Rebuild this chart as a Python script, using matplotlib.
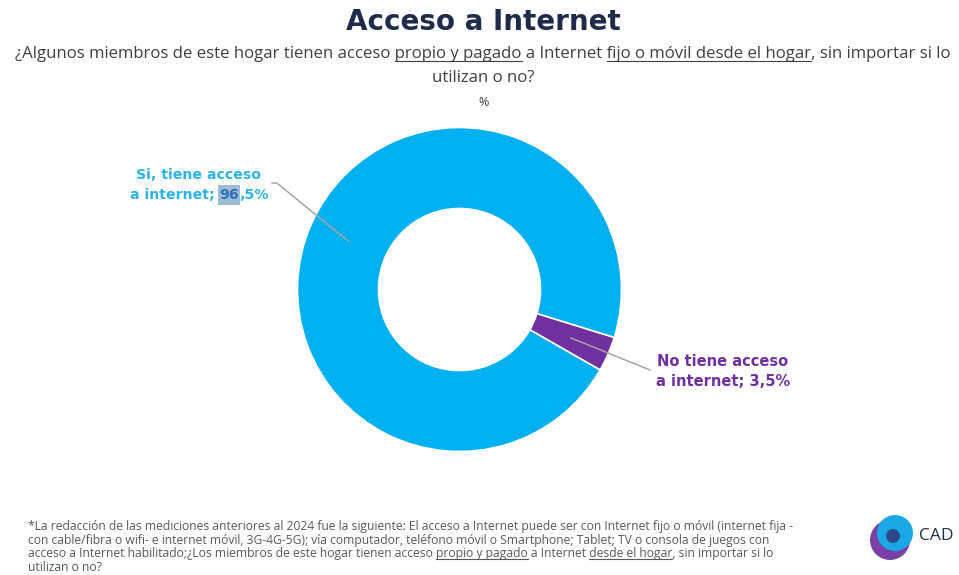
import matplotlib
matplotlib.use("Agg")
import matplotlib.pyplot as plt
from matplotlib.patches import Rectangle, Ellipse
import numpy as np

# ---- data ----
categories = ["No tiene acceso\na internet", "Si, tiene acceso\na internet"]
values = [3.5, 96.5]
colors = ["#7030A0", "#00B0F0"]

W, H = 959, 575
fig = plt.figure(figsize=(W / 100, H / 100), dpi=100)
fig.patch.set_facecolor("white")

FONT = "Open Sans"
BOLD = "DejaVu Sans"
NAVY = "#1F2B4A"
TXT = "#404040"


def fx(x):
    return x / W


def fy(y):
    return 1 - y / H


renderer = fig.canvas.get_renderer()


def text_width(s, **kw):
    t = fig.text(0, 0, s, **kw)
    w = t.get_window_extent(renderer).width
    t.remove()
    return w


def underlined_line(s, cx, y, underline_parts, color, size, ha="center", x_left=None, weight="normal"):
    kw = dict(fontsize=size, family=FONT, color=color, weight=weight)
    full_w = text_width(s, **kw)
    if ha == "center":
        x0 = cx - full_w / 2
    else:
        x0 = x_left
    fig.text(fx(x0), fy(y), s, ha="left", va="baseline", **kw)
    for part in underline_parts:
        i = s.index(part)
        a = text_width(s[:i], **kw) if i > 0 else 0
        b = text_width(part, **kw)
        uy = y + size * 0.22
        fig.add_artist(plt.Line2D([fx(x0 + a), fx(x0 + a + b)], [fy(uy), fy(uy)],
                                  color=color, lw=0.8))


# ---- title and question ----
fig.text(fx(483), fy(22), "Acceso a Internet", ha="center", va="center",
         fontsize=20, weight="bold", family=BOLD, color=NAVY)
underlined_line("¿Algunos miembros de este hogar tienen acceso propio y pagado a Internet "
                "fijo o móvil desde el hogar, sin importar si lo",
                483, 58, ["propio y pagado", "fijo o móvil desde el hogar"], TXT, 12.1)
fig.text(fx(483), fy(78), "utilizan o no?", ha="center", va="center",
         fontsize=12.1, family=FONT, color=TXT)
fig.text(fx(484), fy(103), "%", ha="center", va="center",
         fontsize=9, family=FONT, color=TXT)

# ---- donut ----
cx, cy, R = 459.5, 289.5, 162
ax = fig.add_axes([fx(cx - R), fy(cy + R), 2 * R / W, 2 * R / H])
wedges, _ = ax.pie(values, colors=colors, startangle=-29.8, counterclock=True,
                   radius=1.0, wedgeprops=dict(width=0.5, edgecolor="white", linewidth=1.2))
ax.set_xlim(-1, 1)
ax.set_ylim(-1, 1)
ax.set_aspect("equal")
ax.axis("off")

# leader lines from wedge mid-angles
label_anchor = {
    0: (1.176, -0.497),
    1: (-1.157, 0.657),
}
for i, w in enumerate(wedges):
    mid = np.deg2rad((w.theta1 + w.theta2) / 2)
    sx, sy = 0.75 * np.cos(mid), 0.75 * np.sin(mid)
    ex, ey = label_anchor[i]
    if i == 1:
        xs, ys = [sx, ex + 0.03, ex], [sy, ey, ey]
    else:
        xs, ys = [sx, ex], [sy, ey]
    ax.plot(xs, ys, color="#A6A6A6", lw=1.1, clip_on=False, zorder=5)

# ---- labels ----
LBL = 10.2
# "Si" label
si_color = "#2DB3EA"
fig.text(fx(199), fy(175), "Si, tiene acceso", ha="center", va="center",
         fontsize=LBL, weight="bold", family=BOLD, color=si_color)
kwb = dict(fontsize=LBL, weight="bold", family=BOLD)
p1 = "a internet; "
p2 = f"{values[1]:.1f}".split(".")[0]
p3 = "," + f"{values[1]:.1f}".split(".")[1] + "%"
w1 = text_width(p1, **kwb)
w2 = text_width(p2, **kwb)
w3 = text_width(p3, **kwb)
x0 = 199 - (w1 + w2 + w3) / 2
ly = 195
fig.add_artist(Rectangle((fx(x0 + w1 - 1), fy(ly + 10)), (w2 + 2) / W, 20 / H,
                         transform=fig.transFigure, facecolor="#9DBAD6", edgecolor="none", zorder=1))
fig.text(fx(x0), fy(ly), p1, ha="left", va="center", color=si_color, **kwb)
fig.text(fx(x0 + w1), fy(ly), p2, ha="left", va="center", color="#2E75B6", zorder=3, **kwb)
fig.text(fx(x0 + w1 + w2), fy(ly), p3, ha="left", va="center", color=si_color, **kwb)

# "No" label
no_val = f"{values[0]:.1f}".replace(".", ",")
fig.text(fx(723), fy(362), "No tiene acceso", ha="center", va="center",
         fontsize=10.5, weight="bold", family=BOLD, color="#7030A0")
fig.text(fx(723), fy(382), f"a internet; {no_val}%", ha="center", va="center",
         fontsize=10.5, weight="bold", family=BOLD, color="#7030A0")

# ---- footnote ----
FN = 8.7
FC = "#595959"
foot = [
    "*La redacción de las mediciones anteriores al 2024 fue la siguiente: El acceso a Internet puede ser con Internet fijo o móvil (internet fija -",
    "con cable/fibra o wifi- e internet móvil, 3G-4G-5G); vía computador, teléfono móvil o Smartphone; Tablet; TV o consola de juegos con",
    "acceso a Internet habilitado;¿Los miembros de este hogar tienen acceso propio y pagado a Internet desde el hogar, sin importar si lo",
    "utilizan o no?",
]
for k, line in enumerate(foot):
    parts = ["propio y pagado", "desde el hogar"] if k == 2 else []
    underlined_line(line, 0, 530 + k * 13.7, parts, FC, FN, ha="left", x_left=28)

# ---- logo ----
fig.add_artist(Ellipse((fx(890), fy(540)), 40 / W, 40 / H, transform=fig.transFigure,
                       facecolor="#7B3FA6", edgecolor="none"))
fig.add_artist(Ellipse((fx(895), fy(533)), 36 / W, 36 / H, transform=fig.transFigure,
                       facecolor="#19A7E6", edgecolor="none"))
fig.add_artist(Ellipse((fx(893), fy(536)), 14 / W, 14 / H, transform=fig.transFigure,
                       facecolor="#2C4A8A", edgecolor="none"))
fig.text(fx(919), fy(536), "CAD", ha="left", va="center", fontsize=12.5,
         family=FONT, color=NAVY)

fig.savefig("out.png", dpi=100, facecolor="white")
